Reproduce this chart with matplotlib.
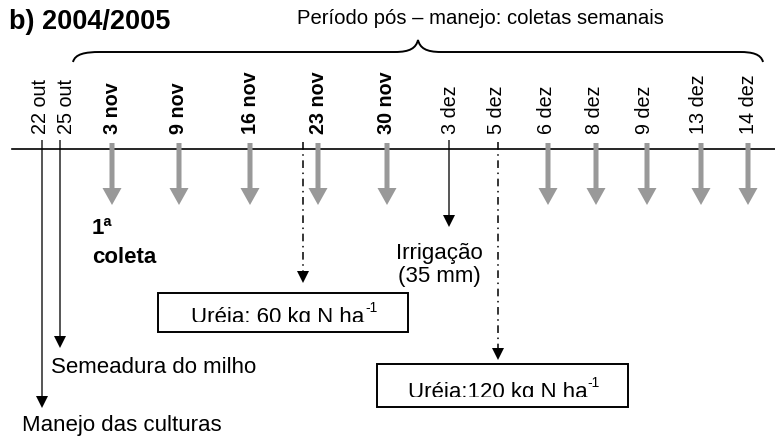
import matplotlib
matplotlib.use("Agg")
import matplotlib.pyplot as plt
from matplotlib.path import Path
from matplotlib.patches import PathPatch, Rectangle
from matplotlib.transforms import Bbox, TransformedBbox, offset_copy

plt.rcParams['font.family'] = ['Liberation Sans', 'DejaVu Sans']

# ---- data ----
title = "b) 2004/2005"
period_label = "Período pós – manejo: coletas semanais"
date_labels = ["22 out", "25 out", "3 nov", "9 nov", "16 nov", "23 nov", "30 nov",
               "3 dez", "5 dez", "6 dez", "8 dez", "9 dez", "13 dez", "14 dez"]
bold_dates = ["3 nov", "9 nov", "16 nov", "23 nov", "30 nov"]
collection_dates = ["3 nov", "9 nov", "16 nov", "23 nov", "30 nov",
                    "6 dez", "8 dez", "9 dez", "13 dez", "14 dez"]
events = {"22 out": "Manejo das culturas", "25 out": "Semeadura do milho",
          "3 dez": "Irrigação\n(35 mm)"}
urea_events = {"23 nov": ("Uréia: 60 kg N ha", "-1"),
               "5 dez": ("Uréia:120 kg N ha", "-1")}
first_collection = ("1ª", "coleta")

# ---- layout (pixel positions on the timeline) ----
label_x = [40, 66, 112, 179, 250, 318, 387, 450, 497, 547, 595, 645, 699, 748]
line_x = {"22 out": 42, "25 out": 60, "3 dez": 449, "23 nov": 303, "5 dez": 498}
arrow_x = {"3 nov": 112, "9 nov": 179, "16 nov": 250, "23 nov": 318, "30 nov": 387,
           "6 dez": 548, "8 dez": 596, "9 dez": 647, "13 dez": 701, "14 dez": 748}
xpos = dict(zip(date_labels, label_x))

W, H = 775, 436
fig = plt.figure(figsize=(W / 100, H / 100), dpi=100)
ax = fig.add_axes([0, 0, 1, 1])
ax.set_xlim(0, W)
ax.set_ylim(H, 0)
ax.axis('off')

# title
ax.text(9, 22, title, fontsize=19.5, fontweight='bold', ha='left', va='center')
ax.text(480, 18, period_label, fontsize=14.6, ha='center', va='center')

# brace
verts = [(73, 62), (75, 54), (85, 52), (100, 52),
         (395, 52),
         (410, 52), (416, 48), (418, 40),
         (420, 48), (426, 52), (441, 52),
         (740, 52),
         (752, 52), (761, 54), (763, 62)]
codes = [Path.MOVETO, Path.CURVE4, Path.CURVE4, Path.CURVE4,
         Path.LINETO,
         Path.CURVE4, Path.CURVE4, Path.CURVE4,
         Path.CURVE4, Path.CURVE4, Path.CURVE4,
         Path.LINETO,
         Path.CURVE4, Path.CURVE4, Path.CURVE4]
ax.add_patch(PathPatch(Path(verts, codes), fill=False, lw=1.4, color='black'))

# timeline
ax.plot([12, W], [149, 149], color='black', lw=1.2, zorder=2)

# date labels
for d in date_labels:
    ax.text(xpos[d], 133.5, d, rotation=90, ha='center', va='bottom', fontsize=14.2,
            fontweight='bold' if d in bold_dates else 'normal')

# gray collection arrows
for d in collection_dates:
    ax.arrow(arrow_x[d], 143, 0, 62, width=5, head_width=19, head_length=17,
             length_includes_head=True, color='#999999', lw=0, zorder=3)

# solid black event arrows
ends = {"22 out": 408, "25 out": 348, "3 dez": 227}
for d, yend in ends.items():
    ax.arrow(line_x[d], 140, 0, yend - 140, width=1.3, head_width=12, head_length=12,
             length_includes_head=True, color='black', lw=0, zorder=4)

ax.text(22, 425, events["22 out"], fontsize=16, ha='left', va='center')
ax.text(51, 367, events["25 out"], fontsize=16, ha='left', va='center')
ax.text(439, 265, events["3 dez"], fontsize=16, ha='center', va='center',
        linespacing=1.15)

ax.text(92, 228, first_collection[0], fontsize=16, fontweight='bold', ha='left', va='center')
ax.text(92, 257, first_collection[1], fontsize=16, fontweight='bold', ha='left', va='center')

# dash-dot urea arrows and boxes
urea_ends = {"23 nov": 283, "5 dez": 360}
boxes = {"23 nov": (158, 293, 408, 332), "5 dez": (377, 364, 628, 407)}
renderer = fig.canvas.get_renderer()
for d, yend in urea_ends.items():
    x = line_x[d]
    ax.plot([x, x], [142, yend - 11], color='black', lw=1.1, dashes=(5, 3, 1, 3), zorder=4)
    ax.arrow(x, yend - 12, 0, 12, width=0.5, head_width=12, head_length=12,
             length_includes_head=True, color='black', lw=0, zorder=4)
    x0, y0, x1, y1 = boxes[d]
    ax.add_patch(Rectangle((x0, y0), x1 - x0, y1 - y0, fill=False, lw=1.4,
                           edgecolor='black', zorder=4))
    main, sup = urea_events[d]
    clip = TransformedBbox(Bbox([[x0, y0], [x1, y1 - 10]]), ax.transData)
    t = ax.text((x0 + x1) / 2 - 5, y1 - 9, main, fontsize=16, ha='center',
                va='baseline', zorder=5)
    t.set_clip_box(clip)
    t.set_clip_on(True)
    bb = t.get_window_extent(renderer).transformed(ax.transData.inverted())
    xr = max(bb.x0, bb.x1)
    s = ax.text(xr + 0.5, y1 - 20, sup, fontsize=10, ha='left', va='baseline', zorder=5)

fig.savefig("out.png", dpi=100)
